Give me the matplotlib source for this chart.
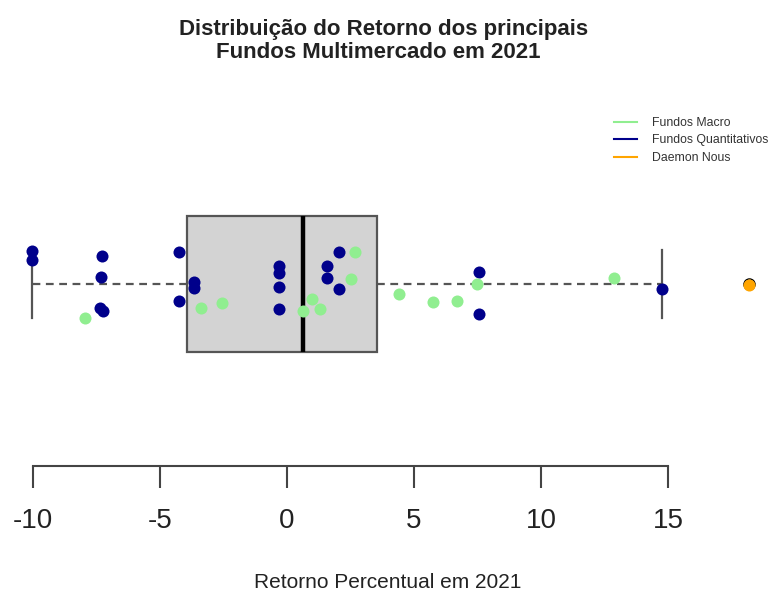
import matplotlib
matplotlib.use("Agg")
import matplotlib.pyplot as plt
from matplotlib.lines import Line2D
import numpy as np

plt.rcParams['font.family'] = ['Liberation Sans', 'DejaVu Sans']

# Returns (%)
quant_returns = [-10.04, -10.04, -7.28, -7.32, -7.36, -7.24, -4.25, -4.25, -3.66, -3.66,
                 -0.31, -0.31, -0.31, -0.31, 2.05, 1.57, 1.57, 2.05, 7.56, 7.56, 14.76]
quant_jitter = [0.193, 0.140, 0.164, 0.041, -0.140, -0.158, 0.187, -0.099, 0.012, -0.023,
                0.105, 0.064, -0.018, -0.146, 0.187, 0.105, 0.035, -0.029, 0.070, -0.175, -0.029]
macro_returns = [-7.95, -3.39, -2.56, 2.68, 2.52, 0.98, 1.30, 0.63, 4.41, 5.75, 6.69, 7.48, 12.87]
macro_jitter = [-0.199, -0.140, -0.111, 0.187, 0.029, -0.088, -0.146, -0.158, -0.058, -0.105,
                -0.099, 0.0, 0.035]
daemon_returns = [18.19]
daemon_jitter = [-0.006]

legend_labels = ["Fundos Macro", "Fundos Quantitativos", "Daemon Nous"]
xticks = [-10, -5, 0, 5, 10, 15]
title_lines = ["Distribuição do Retorno dos principais", "Fundos Multimercado em 2021"]

c_macro = "#90EE90"
c_quant = "#00008B"
c_daemon = "#FFA500"

all_returns = quant_returns + macro_returns + daemon_returns

fig = plt.figure(figsize=(7.72, 5.94), dpi=100)
ax = fig.add_axes([20/772, 128/594, 740/772, 286/594])

ax.boxplot(all_returns, vert=False, positions=[1], widths=0.8, capwidths=0.4,
           patch_artist=True,
           boxprops=dict(facecolor="#D3D3D3", edgecolor="#555555", linewidth=1.6),
           medianprops=dict(color="black", linewidth=3.2),
           whiskerprops=dict(color="#555555", linewidth=1.6, linestyle=(0, (3.5, 2.5))),
           capprops=dict(color="#555555", linewidth=1.6),
           flierprops=dict(marker="o", markerfacecolor="none", markeredgecolor="black",
                           markersize=8, markeredgewidth=1.0),
           zorder=1)

ax.scatter(quant_returns, 1 + np.array(quant_jitter), s=75, color=c_quant, zorder=3, linewidths=0)
ax.scatter(macro_returns, 1 + np.array(macro_jitter), s=75, color=c_macro, zorder=3, linewidths=0)
ax.scatter(daemon_returns, 1 + np.array(daemon_jitter), s=75, color=c_daemon, zorder=4, linewidths=0)

ax.set_xlim((20-287)/25.4, (760-287)/25.4)
ax.set_ylim(1 - (466-284)/171, 1 + (284-180)/171)

for s in ["top", "right", "left"]:
    ax.spines[s].set_visible(False)
ax.spines["bottom"].set_bounds(-10, 15)
ax.spines["bottom"].set_color("#444444")
ax.spines["bottom"].set_linewidth(1.5)
ax.set_yticks([])
ax.set_xticks(xticks)
ax.set_xticklabels([str(t) for t in xticks])
ax.tick_params(axis="x", length=16, width=1.5, color="#444444", labelsize=20, pad=14,
               labelcolor="#222222")

fig.text(384/772, 1 - 29/594, title_lines[0], ha="center", va="center",
         fontsize=16, fontweight="bold", color="#222222")
fig.text(378/772, 1 - 52/594, title_lines[1], ha="center", va="center",
         fontsize=16, fontweight="bold", color="#222222")
fig.text(388/772, 1 - 583/594, "Retorno Percentual em 2021", ha="center", va="center",
         fontsize=15, color="#222222")

handles = [Line2D([], [], color=c_macro, lw=1.5),
           Line2D([], [], color=c_quant, lw=1.5),
           Line2D([], [], color=c_daemon, lw=1.5)]
fig.legend(handles, legend_labels, loc="upper left", bbox_to_anchor=(603/772, 1 - 106/594),
           frameon=False, fontsize=8.8, handlelength=1.9, labelspacing=0.45, handletextpad=1.2,
           labelcolor="#333333")

fig.savefig("out.png", dpi=100)
